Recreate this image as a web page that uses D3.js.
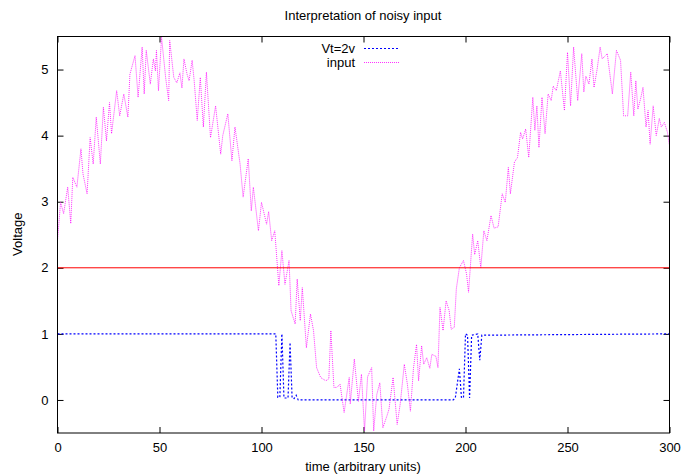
<!DOCTYPE html>
<html>
<head>
<meta charset="utf-8">
<script src="https://cdn.jsdelivr.net/npm/d3@7"></script>
<style>
  html, body { margin: 0; padding: 0; background: #fff; }
  svg { display: block; font-family: "Liberation Sans", Arial, sans-serif; }
  .axis text { font-size: 13px; fill: #000; }
  .axis path, .axis line { stroke: #000; }
</style>
</head>
<body>
<svg id="chart" width="683" height="476"></svg>
<script>
// Noisy input vs. thresholded output (gnuplot-style look)
const TITLE = "Interpretation of noisy input";
const X_LABEL = "time (arbitrary units)";
const Y_LABEL = "Voltage";

const X_TICKS = [0, 50, 100, 150, 200, 250, 300];
const Y_TICKS = [0, 1, 2, 3, 4, 5];
const THRESHOLD = 2;

// input signal (time, voltage)
const INPUT_T = [
  0, 1.5, 3, 5, 6.5, 7.5, 9.5, 11.5, 12.5, 14.5, 16, 17.5, 19, 21, 22.5, 24,
  25.5, 26.5, 29, 30.5, 32.5, 34.5, 35.5, 38, 39.5, 41.5, 42.5, 43.5, 45.5, 47,
  48, 48.5, 49.5, 51, 53, 54.5, 55, 57, 58.5, 60, 61, 62, 63.5, 64.5, 66, 67,
  68.5, 70, 71.5, 73, 75, 77.5, 80, 81, 83.5, 85.5, 87, 89.5, 91, 93.5, 95, 96,
  98.5, 100, 102.5, 103.5, 105, 106.5, 108.5, 110, 111.5, 113.5, 114.5, 116.5,
  117.5, 119, 120, 122, 124, 125.5, 127, 129, 131.5, 133, 134, 135.5, 137,
  138.5, 140.5, 143, 143.5, 145.5, 147.5, 149, 150.5, 152, 154, 155, 156.5, 158,
  159.5, 161.5, 162.5, 164.5, 166.5, 168, 170, 171.5, 173, 174.5, 176, 177,
  178.5, 179.5, 181, 182.5, 183.5, 185.5, 186.5, 187.5, 189, 190.5, 192, 193,
  194.5, 195.5, 197, 199, 200.5, 201.5, 203.5, 204.5, 206, 207.5, 209, 210.5,
  212.5, 214, 216, 218, 219.5, 221, 222, 224, 225.5, 227, 228, 229.5, 231, 233,
  234, 235, 236, 237.5, 239, 240.5, 242, 243, 244.5, 246.5, 248.5, 250, 251.5,
  253, 255, 257, 258, 259, 260.5, 262, 263, 264.5, 266, 267, 269.5, 272, 274,
  276, 277.5, 279.5, 281, 282.5, 283.5, 284.5, 286, 287, 288.5, 289.5, 290.5,
  292, 293.5, 295, 296, 297.5, 299, 300
];
const INPUT_V = [
  2.41, 2.99, 2.82, 3.22, 2.67, 3.37, 3.22, 3.8, 3.42, 3.12, 3.97, 3.57, 4.28,
  3.57, 4.43, 3.92, 4.5, 4.03, 4.68, 4.3, 4.63, 4.28, 4.93, 5.21, 4.58, 5.34,
  4.63, 5.29, 4.78, 5.16, 4.98, 5.29, 4.68, 5.49, 4.88, 4.53, 5.44, 4.88, 4.8,
  4.95, 4.72, 5.16, 4.93, 4.83, 5.14, 4.83, 4.23, 4.88, 4.13, 4.96, 3.97, 4.45,
  3.72, 4.0, 4.33, 3.62, 4.13, 3.57, 3.07, 3.65, 2.86, 3.22, 2.56, 2.99, 2.66,
  2.85, 2.41, 2.56, 1.73, 2.26, 1.75, 2.11, 1.35, 1.15, 1.83, 1.2, 1.7, 0.79,
  1.3, 1.05, 0.49, 0.34, 0.29, 0.32, 1.05, 0.19, 0.19, 0.24, -0.19, 0.34,
  -0.06, 0.62, -0.02, 0.39, -0.47, 0.35, 0.49, -0.47, 0.08, 0.26, -0.42, -0.24,
  -0.14, 0.34, -0.37, -0.06, 0.54, 0.24, -0.17, 0.48, 0.84, 0.29, 0.82, 0.54,
  0.64, 0.48, 0.69, 0.66, 0.49, 1.4, 1.05, 1.5, 1.35, 1.07, 1.1, 1.68, 2.0,
  2.11, 1.91, 1.63, 2.51, 2.2, 2.41, 2.0, 2.56, 2.41, 2.79, 2.6, 2.62, 3.12,
  2.99, 3.52, 3.12, 3.6, 3.67, 4.05, 3.95, 4.1, 3.67, 4.58, 4.08, 4.45, 3.82,
  4.58, 4.03, 4.63, 4.53, 4.75, 4.68, 4.98, 4.38, 5.26, 4.45, 5.34, 4.53, 5.24,
  4.66, 4.9, 4.78, 5.16, 4.73, 5.0, 5.34, 5.16, 5.24, 4.63, 5.29, 5.14, 4.3,
  4.3, 4.96, 4.3, 4.83, 4.4, 4.58, 4.73, 4.13, 4.38, 3.87, 4.45, 4.0, 4.26,
  4.13, 4.2, 4.05, 3.85
];

// output of the Vt=2v interpreter
const OUTPUT_T = [
  0, 107, 108, 109, 110, 111, 113, 114, 115, 116, 117, 118, 194, 195, 197, 198,
  199, 200, 201, 202, 203, 206, 207, 208, 300
];
const OUTPUT_V = [
  1, 1, 0.04, 0.04, 1, 0.03, 0.03, 0.87, 0.03, 0.02, 0.07, 0, 0, 0.03, 0.47,
  0.04, 0.03, 1, 0.98, 0.03, 0.98, 1, 0.6, 0.98, 1
];

const svg = d3.select("#chart");
const width = +svg.attr("width");
const height = +svg.attr("height");
const m = { top: 36, right: 14, bottom: 43.5, left: 57 };
const innerW = width - m.left - m.right;
const innerH = height - m.top - m.bottom;

const x = d3.scaleLinear().domain([0, 300]).range([0, innerW]);
const y = d3.scaleLinear().domain([-0.5, 5.5]).range([innerH, 0]);

const g = svg.append("g").attr("transform", `translate(${m.left + 0.5},${m.top + 0.5})`);

const clipId = "plot-clip";
svg.append("defs").append("clipPath").attr("id", clipId)
  .append("rect").attr("x", 0).attr("y", 0).attr("width", innerW).attr("height", innerH);

// axes, ticks point inward and are mirrored on all four sides
const tick = 6;
g.append("g").attr("class", "axis x")
  .attr("transform", `translate(0,${innerH})`)
  .call(d3.axisBottom(x).tickValues(X_TICKS).tickFormat(d3.format("d"))
    .tickSizeInner(-tick).tickSizeOuter(0).tickPadding(10))
  .call((s) => s.select(".domain").remove());
g.append("g").attr("class", "axis x2")
  .call(d3.axisTop(x).tickValues(X_TICKS).tickSizeInner(-tick).tickSizeOuter(0).tickFormat(""))
  .call((s) => s.select(".domain").remove());
g.append("g").attr("class", "axis y")
  .call(d3.axisLeft(y).tickValues(Y_TICKS).tickFormat(d3.format("d"))
    .tickSizeInner(-tick).tickSizeOuter(0).tickPadding(9))
  .call((s) => s.select(".domain").remove());
g.append("g").attr("class", "axis y2")
  .attr("transform", `translate(${innerW},0)`)
  .call(d3.axisRight(y).tickValues(Y_TICKS).tickSizeInner(-tick).tickSizeOuter(0).tickFormat(""))
  .call((s) => s.select(".domain").remove());

const plot = g.append("g").attr("clip-path", `url(#${clipId})`);

const line = d3.line().x((d) => x(d[0])).y((d) => y(d[1]));

const outputPts = OUTPUT_T.map((t, i) => [t, OUTPUT_V[i]]);
const inputPts = INPUT_T.map((t, i) => [t, INPUT_V[i]]);

plot.append("path")
  .attr("d", line(outputPts))
  .attr("fill", "none")
  .attr("stroke", "#0000ff")
  .attr("stroke-width", 1.2)
  .attr("stroke-dasharray", "2,2");

plot.append("path")
  .attr("d", line(inputPts))
  .attr("fill", "none")
  .attr("stroke", "#ff00ff")
  .attr("stroke-width", 1)
  .attr("stroke-opacity", 0.8)
  .attr("stroke-dasharray", "1,1");

plot.append("line")
  .attr("x1", x(0)).attr("x2", x(300))
  .attr("y1", y(THRESHOLD)).attr("y2", y(THRESHOLD))
  .attr("stroke", "#ff0000")
  .attr("stroke-width", 1);

// frame
g.append("rect")
  .attr("width", innerW).attr("height", innerH)
  .attr("fill", "none").attr("stroke", "#000").attr("stroke-width", 1);

// legend
const legend = [
  { label: "Vt=2v", color: "#0000ff", dash: "2,2", width: 1.2, op: 1 },
  { label: "input", color: "#ff00ff", dash: "1,1", width: 1, op: 0.8 },
];
const lg = svg.append("g").attr("transform", "translate(0,48)");
legend.forEach((d, i) => {
  const row = lg.append("g").attr("transform", `translate(0,${i * 14})`);
  row.append("text")
    .attr("x", 355).attr("y", 0).attr("dy", "0.35em")
    .attr("text-anchor", "end").attr("font-size", 13)
    .text(d.label);
  row.append("line")
    .attr("x1", 364).attr("x2", 400).attr("y1", 0.5).attr("y2", 0.5)
    .attr("stroke", d.color).attr("stroke-width", d.width)
    .attr("stroke-opacity", d.op).attr("stroke-dasharray", d.dash);
});

// title and axis labels
svg.append("text")
  .attr("x", m.left + innerW / 2).attr("y", 20)
  .attr("text-anchor", "middle").attr("font-size", 13)
  .text(TITLE);
svg.append("text")
  .attr("x", m.left + innerW / 2).attr("y", 471)
  .attr("text-anchor", "middle").attr("font-size", 13)
  .text(X_LABEL);
svg.append("text")
  .attr("transform", `translate(22,${m.top + innerH / 2}) rotate(-90)`)
  .attr("text-anchor", "middle").attr("font-size", 13)
  .text(Y_LABEL);
</script>
</body>
</html>
